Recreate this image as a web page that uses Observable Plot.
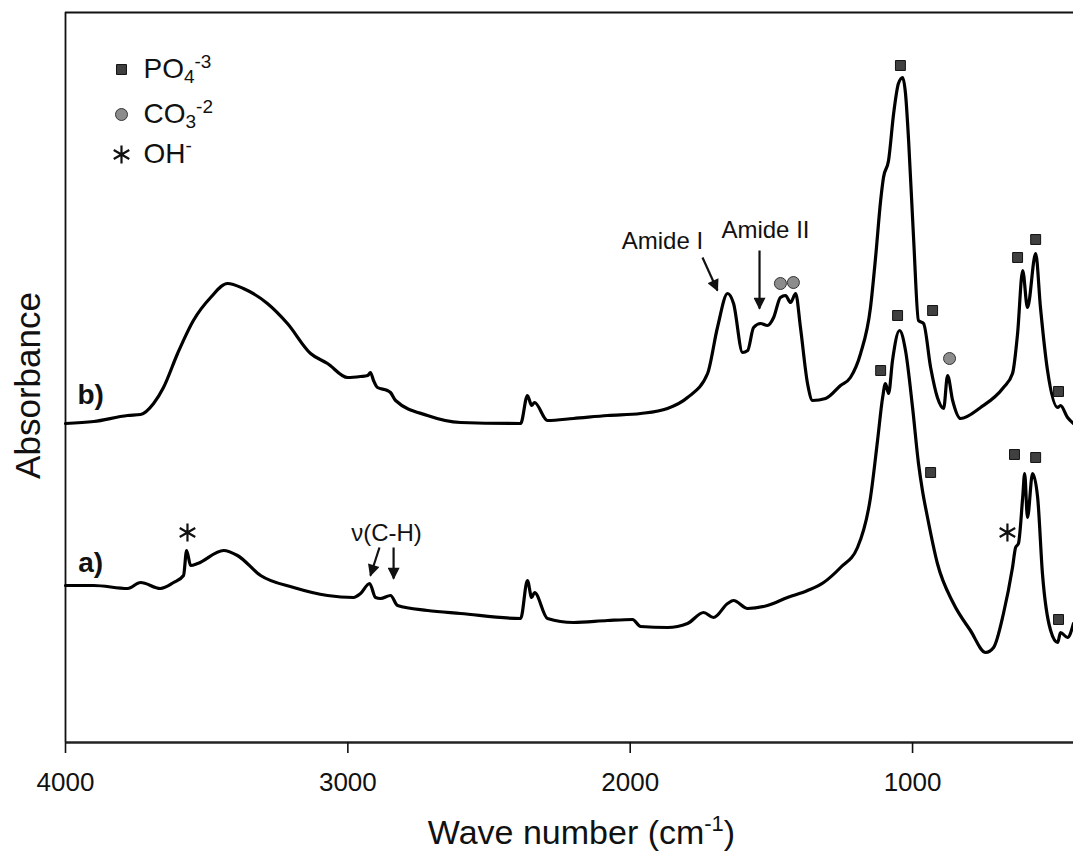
<!DOCTYPE html>
<html>
<head>
<meta charset="utf-8">
<script src="https://cdn.jsdelivr.net/npm/d3@7"></script>
<script src="https://cdn.jsdelivr.net/npm/@observablehq/plot@0.6"></script>
<style>
  html, body { margin: 0; padding: 0; background: #fff; }
  #chart svg { display: block; }
</style>
</head>
<body>
<div id="chart"></div>
<script>
// ---- data (wavenumber cm-1, absorbance a.u.) ----
const wavenumberTicks = [4000, 3000, 2000, 1000];

const spectrumB = [
  [4000,3.19],[3900,3.21],[3780,3.27],[3734,3.28],[3688,3.39],[3653,3.55],[3603,3.89],[3547,4.22],
  [3486,4.45],[3426,4.59],[3370,4.54],[3285,4.39],[3214,4.19],[3132,3.89],[3072,3.79],[3001,3.65],
  [2955,3.66],[2930,3.67],[2920,3.70],[2909,3.62],[2895,3.55],[2860,3.52],[2849,3.50],[2831,3.42],
  [2718,3.27],[2601,3.20],[2388,3.19],[2364,3.47],[2349,3.37],[2339,3.40],[2293,3.22],[2201,3.24],
  [2080,3.27],[1963,3.29],[1868,3.34],[1797,3.45],[1726,3.69],[1691,4.15],[1655,4.49],[1634,4.39],
  [1602,3.90],[1584,3.92],[1563,4.15],[1538,4.19],[1514,4.17],[1492,4.25],[1468,4.45],[1450,4.47],
  [1432,4.40],[1414,4.49],[1397,4.15],[1372,3.59],[1354,3.42],[1308,3.44],[1255,3.57],[1220,3.65],
  [1184,3.89],[1149,4.35],[1131,4.85],[1113,5.42],[1103,5.65],[1085,5.82],[1067,6.29],[1050,6.59],
  [1035,6.65],[1025,6.49],[1014,6.02],[996,5.02],[979,4.22],[961,4.19],[936,3.75],[912,3.45],
  [890,3.34],[876,3.67],[858,3.42],[830,3.24],[759,3.35],[678,3.55],[646,3.69],[628,4.09],
  [610,4.72],[593,4.35],[564,4.89],[547,4.35],[522,3.72],[486,3.35],[476,3.37],[451,3.25],[430,3.19]
];

const spectrumA = [
  [4000,1.57],[3900,1.57],[3780,1.54],[3734,1.60],[3664,1.54],[3617,1.60],[3582,1.67],[3571,1.92],
  [3557,1.77],[3532,1.79],[3440,1.92],[3391,1.87],[3309,1.67],[3192,1.55],[3072,1.47],[2980,1.45],
  [2955,1.49],[2923,1.59],[2902,1.45],[2884,1.44],[2849,1.47],[2824,1.37],[2718,1.32],[2601,1.29],
  [2388,1.24],[2364,1.62],[2349,1.45],[2339,1.50],[2293,1.24],[2201,1.20],[2080,1.22],[1992,1.23],
  [1963,1.16],[1868,1.15],[1797,1.19],[1740,1.30],[1705,1.25],[1655,1.39],[1634,1.42],[1584,1.34],
  [1514,1.37],[1443,1.45],[1372,1.52],[1315,1.60],[1255,1.75],[1195,1.95],[1149,2.45],[1124,3.02],
  [1106,3.45],[1096,3.59],[1085,3.49],[1071,3.82],[1046,4.12],[1025,3.92],[1000,3.35],[979,2.79],
  [965,2.52],[947,2.25],[912,1.79],[855,1.39],[795,1.12],[741,0.90],[713,0.95],[678,1.29],
  [646,1.75],[635,1.95],[625,1.99],[610,2.45],[603,2.69],[593,2.25],[575,2.69],[557,2.45],
  [540,1.69],[511,1.12],[486,1.00],[476,1.10],[451,1.05],[430,1.19]
];

// band markers
const phosphateB = [[1043,6.77],[929,4.32],[628,4.85],[564,5.03],[483,3.51]];
const carbonateB = [[1468,4.59],[1422,4.60],[869,3.84]];
const phosphateA = [[1113,3.72],[1053,4.27],[936,2.70],[639,2.88],[564,2.85],[483,1.23]];
const hydroxylA  = [[3568,2.10],[664,2.10]];

// annotations
const seriesLabels = [["b)",3911,3.47],["a)",3911,1.79]];
const bandLabels = [["Amide I",1886,5.01],["Amide II",1521,5.12],["ν(C-H)",2863,2.09]];
const bandArrows = [
  [1744,4.85,1691,4.52],
  [1542,4.92,1542,4.34],
  [2888,1.95,2920,1.67],
  [2838,1.95,2838,1.64]
];
const legendItems = [["PO4-3","square"],["CO3-2","circle"],["OH-","asterisk"]];

// ---- styles ----
const FONT = "Liberation Sans, Arial, Helvetica, sans-serif";
const sqStyle = {symbol: "square", r: 5.6, fill: "#404040", stroke: "#111", strokeWidth: 1};
const ciStyle = {symbol: "circle", r: 6, fill: "#8c8c8c", stroke: "#333", strokeWidth: 1};
const asStyle = {symbol: "asterisk", r: 8.5, stroke: "#111", strokeWidth: 2.2};
const styleFor = {square: sqStyle, circle: ciStyle, asterisk: asStyle};
const legendDy = [57, 102, 142];

const legendMarks = [];
legendItems.forEach(([label, sym], i) => {
  legendMarks.push(Plot.dot([label], {frameAnchor: "top-left", dx: 56, dy: legendDy[i], ...styleFor[sym]}));
  legendMarks.push(Plot.text([label], {frameAnchor: "top-left", dx: 78, dy: legendDy[i], text: d => d,
    textAnchor: "start", lineAnchor: "middle", fontSize: 28, fill: "#111"}));
});

const svg = Plot.plot({
  width: 1073,
  height: 855,
  marginTop: 12,
  marginBottom: 113,
  marginLeft: 65,
  marginRight: 0,
  style: {fontFamily: FONT, background: "#fff", color: "#111", overflow: "visible"},
  x: {domain: [4000, 430]},
  y: {domain: [0, 7.3], axis: null},
  marks: [
    Plot.ruleX([4000], {stroke: "#111", strokeWidth: 1.8}),
    Plot.ruleY([7.3], {stroke: "#111", strokeWidth: 1.8}),
    Plot.ruleY([0], {stroke: "#222", strokeWidth: 2.4}),
    Plot.axisX({ticks: wavenumberTicks, tickFormat: d => String(d), tickSize: 11, tickPadding: 19,
      fontSize: 26, label: null, strokeWidth: 1.6}),
    Plot.text(["Wave number (cm-1)"], {frameAnchor: "bottom", text: d => d, dx: 12, dy: 101,
      textAnchor: "middle", lineAnchor: "bottom", fontSize: 34, fill: "#111"}),
    Plot.text(["Absorbance"], {frameAnchor: "left", text: d => d, rotate: -90, dx: -26, dy: 8,
      textAnchor: "middle", lineAnchor: "bottom", fontSize: 35, fill: "#111"}),
    Plot.line(spectrumA, {x: d => d[0], y: d => d[1], stroke: "#000", strokeWidth: 3.2, curve: "monotone-x"}),
    Plot.line(spectrumB, {x: d => d[0], y: d => d[1], stroke: "#000", strokeWidth: 3.2, curve: "monotone-x"}),
    Plot.dot(phosphateB, {x: d => d[0], y: d => d[1], ...sqStyle}),
    Plot.dot(phosphateA, {x: d => d[0], y: d => d[1], ...sqStyle}),
    Plot.dot(carbonateB, {x: d => d[0], y: d => d[1], ...ciStyle}),
    Plot.dot(hydroxylA, {x: d => d[0], y: d => d[1], ...asStyle}),
    Plot.text(seriesLabels, {x: d => d[1], y: d => d[2], text: d => d[0], fontSize: 28, fontWeight: "bold", fill: "#111"}),
    Plot.text(bandLabels, {x: d => d[1], y: d => d[2], text: d => d[0], fontSize: 24, fill: "#111"}),
    Plot.link(bandArrows, {x1: d => d[0], y1: d => d[1], x2: d => d[2], y2: d => d[3],
      stroke: "#111", strokeWidth: 2.2}),
    ...legendMarks
  ]
});

// filled arrowheads for the callout arrows
const NS = "http://www.w3.org/2000/svg";
const defs = document.createElementNS(NS, "defs");
const marker = document.createElementNS(NS, "marker");
marker.setAttribute("id", "solid-head");
marker.setAttribute("viewBox", "0 0 10 10");
marker.setAttribute("refX", "9");
marker.setAttribute("refY", "5");
marker.setAttribute("markerUnits", "userSpaceOnUse");
marker.setAttribute("markerWidth", "14");
marker.setAttribute("markerHeight", "12");
marker.setAttribute("orient", "auto");
const head = document.createElementNS(NS, "path");
head.setAttribute("d", "M0,0L10,5L0,10z");
head.setAttribute("fill", "#111");
marker.appendChild(head);
defs.appendChild(marker);
svg.insertBefore(defs, svg.firstChild);
svg.querySelectorAll('g[aria-label="link"] path, g[aria-label="link"] line').forEach(p => p.setAttribute("marker-end", "url(#solid-head)"));

// sub/superscripts in chemical formulas and axis unit
function richText(el, parts) {
  while (el.firstChild) el.removeChild(el.firstChild);
  parts.forEach(([t, dy, size]) => {
    const ts = document.createElementNS(NS, "tspan");
    ts.textContent = t;
    if (dy) ts.setAttribute("dy", dy);
    if (size) ts.setAttribute("font-size", size);
    el.appendChild(ts);
  });
}
const richMap = {
  "PO4-3": [["PO"], ["4", 5, 19], ["-3", -15, 19]],
  "CO3-2": [["CO"], ["3", 5, 19], ["-2", -15, 19]],
  "OH-": [["OH"], ["-", -11, 19]],
  "Wave number (cm-1)": [["Wave number (cm"], ["-1", -13, 22], [")", 13]]
};
svg.querySelectorAll("text").forEach(t => {
  const key = t.textContent;
  if (richMap[key] && t.children.length === 0) richText(t, richMap[key]);
});

document.getElementById("chart").appendChild(svg);
</script>
</body>
</html>
